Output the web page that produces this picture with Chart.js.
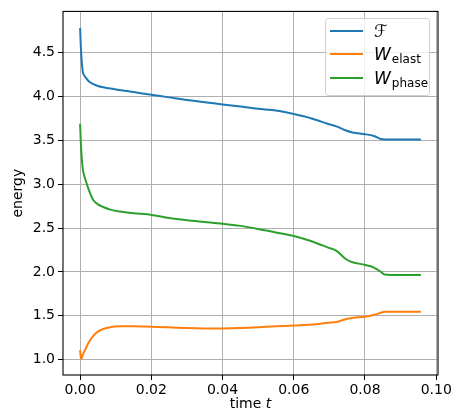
<!DOCTYPE html>
<html><head><meta charset="utf-8">
<script src="https://cdn.jsdelivr.net/npm/chart.js@4"></script>
<style>html,body{margin:0;padding:0;background:#fff}#wrap{width:454px;height:417px}</style>
</head><body><div id="wrap"><canvas id="c" width="454" height="417"></canvas></div>
<script>
const times = [0,0.0003,0.0008,0.0015,0.0025,0.0037,0.005,0.0065,0.0085,0.011,0.015,0.02,0.025,0.03,0.035,0.04,0.045,0.05,0.055,0.06,0.065,0.0695,0.072,0.0745,0.0765,0.08,0.0825,0.0845,0.0855,0.088,0.092,0.0957];
const energyF = [4.78,4.50,4.27,4.22,4.17,4.14,4.12,4.105,4.09,4.075,4.05,4.02,3.99,3.96,3.935,3.91,3.885,3.86,3.84,3.80,3.75,3.69,3.66,3.615,3.59,3.57,3.55,3.515,3.51,3.51,3.51,3.51];
const wElast = [1.11,1.01,1.06,1.12,1.20,1.27,1.32,1.35,1.37,1.38,1.38,1.375,1.37,1.36,1.355,1.355,1.36,1.37,1.38,1.39,1.40,1.42,1.43,1.46,1.475,1.49,1.51,1.535,1.545,1.545,1.545,1.545];
const wPhase = [3.69,3.40,3.16,3.05,2.93,2.82,2.77,2.74,2.71,2.69,2.67,2.65,2.615,2.59,2.57,2.55,2.525,2.49,2.45,2.41,2.35,2.28,2.24,2.15,2.11,2.08,2.05,2.00,1.97,1.965,1.965,1.965];
const xTicks = [0,0.02,0.04,0.06,0.08,0.10];
const yTicks = [1.0,1.5,2.0,2.5,3.0,3.5,4.0,4.5];
const legendLabels = [{main:'\u2131',sub:'',italic:false},{main:'W',sub:'elast',italic:true},{main:'W',sub:'phase',italic:true}];
const xTitle = ['time ', 't'];
const yTitle = 'energy';
const colors = ['#1f77b4','#ff7f0e','#2ca02c'];

const FONT = 'DejaVu Sans';
const pts = arr => times.map((t,i)=>({x:t,y:arr[i]}));

const framePlugin = {
  id:'frame',
  afterDraw(chart){
    const {ctx, chartArea:a} = chart;
    ctx.save();
    ctx.strokeStyle = '#000'; ctx.lineWidth = 1.1;
    ctx.strokeRect(a.left, a.top, a.right-a.left, a.bottom-a.top);
    // x axis title with italic t
    ctx.fillStyle='#000'; ctx.textBaseline='alphabetic'; ctx.textAlign='left';
    ctx.font='14px "'+FONT+'"';
    const w1=ctx.measureText(xTitle[0]).width;
    ctx.font='italic 14px "'+FONT+'"';
    const w2=ctx.measureText(xTitle[1]).width;
    const cx=(a.left+a.right)/2;
    let sx=cx-(w1+w2)/2;
    ctx.font='14px "'+FONT+'"';
    ctx.fillText(xTitle[0],sx,408);
    ctx.font='italic 14px "'+FONT+'"';
    ctx.fillText(xTitle[1],sx+w1,408);
    // legend
    const bx=325, by=18, bw=104, bh=77;
    ctx.fillStyle='rgba(255,255,255,0.8)';
    ctx.strokeStyle='#d0d0d0'; ctx.lineWidth=1;
    ctx.beginPath();
    ctx.roundRect(bx+0.5,by+0.5,bw,bh,3);
    ctx.fill(); ctx.stroke();
    const rows=[31,54,78];
    legendLabels.forEach((l,i)=>{
      const y=rows[i];
      ctx.strokeStyle=colors[i]; ctx.lineWidth=2;
      ctx.beginPath(); ctx.moveTo(330,y); ctx.lineTo(363,y); ctx.stroke();
      ctx.fillStyle='#000'; ctx.textBaseline='alphabetic'; ctx.textAlign='left';
      ctx.font=(l.italic?'italic ':'')+'17px "'+FONT+'"';
      ctx.fillText(l.main,374,y+6);
      const w=ctx.measureText(l.main).width;
      if(l.sub){
        ctx.font='12px "'+FONT+'"';
        ctx.fillText(l.sub,374+w+1,y+9);
      }
    });
    ctx.restore();
  }
};

new Chart(document.getElementById('c'),{
  type:'line',
  data:{datasets:[
    {label:'F',data:pts(energyF),borderColor:colors[0],borderWidth:2,pointRadius:0,tension:0.3,fill:false},
    {label:'W_elast',data:pts(wElast),borderColor:colors[1],borderWidth:2,pointRadius:0,tension:0.3,fill:false},
    {label:'W_phase',data:pts(wPhase),borderColor:colors[2],borderWidth:2,pointRadius:0,tension:0.3,fill:false}
  ]},
  options:{
    responsive:false, animation:false,
    layout:{padding:{left:0,right:16,top:10,bottom:0}},
    plugins:{legend:{display:false},tooltip:{enabled:false}},
    scales:{
      x:{type:'linear',min:-0.0048,max:0.1005,
        afterBuildTicks:s=>{s.ticks=xTicks.map(v=>({value:v}));},
        afterFit:s=>{s.height=42;},
        ticks:{font:{family:FONT,size:14},color:'#000',padding:2,maxRotation:0,autoSkip:false,
          callback:v=>v.toFixed(2)},
        grid:{color:'#b0b0b0',lineWidth:1,tickLength:5,tickColor:'#000',drawTicks:true},
        border:{display:false},
        title:{display:false}
      },
      y:{type:'linear',min:0.825,max:4.97,
        afterBuildTicks:s=>{s.ticks=yTicks.map(v=>({value:v}));},
        afterFit:s=>{s.width=63;},
        ticks:{font:{family:FONT,size:14},color:'#000',padding:3,autoSkip:false,callback:v=>v.toFixed(1)},
        grid:{color:'#b0b0b0',lineWidth:1,tickLength:5,tickColor:'#000',drawTicks:true},
        border:{display:false},
        title:{display:true,text:yTitle,font:{family:FONT,size:14},color:'#000',padding:{top:10,bottom:0}}
      }
    }
  },
  plugins:[framePlugin]
});
</script></body></html>
